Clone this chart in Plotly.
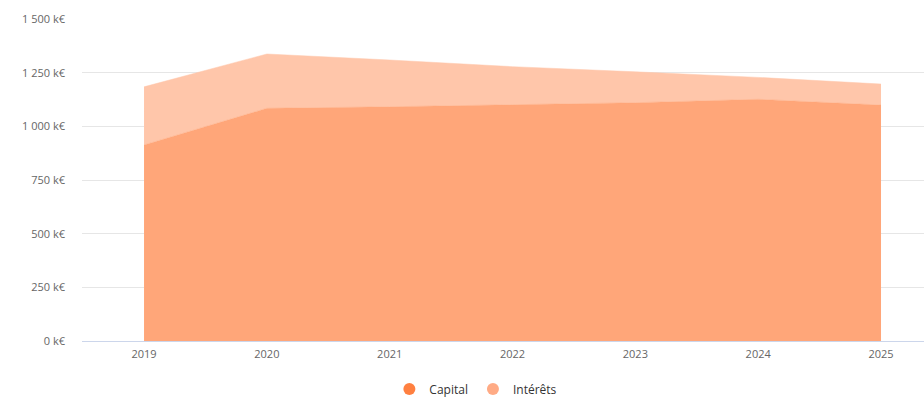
import plotly.graph_objects as go

years = [2019, 2020, 2021, 2022, 2023, 2024, 2025]
capital = [913, 1084, 1091, 1102, 1110, 1126, 1099]
interets = [271, 253, 218, 176, 144, 102, 98]

y_ticks = [0, 250, 500, 750, 1000, 1250, 1500]
y_labels = ["0 k€", "250 k€", "500 k€", "750 k€", "1 000 k€", "1 250 k€", "1 500 k€"]

series_names = ["Capital", "Intérêts"]
fill_colors = ["rgb(255,166,121)", "rgb(255,198,170)"]
legend_colors = ["rgb(255,128,64)", "rgb(255,171,133)"]

fig = go.Figure()
for name, vals, col in zip(series_names, [capital, interets], fill_colors):
    fig.add_trace(go.Scatter(
        x=years, y=vals, name=name, mode="lines",
        stackgroup="one", line=dict(width=0.5, color=col),
        fillcolor=col, showlegend=False,
    ))

# round legend symbols
for name, col in zip(series_names, legend_colors):
    fig.add_trace(go.Scatter(
        x=[None], y=[None], name=name, mode="markers",
        marker=dict(symbol="circle", size=12, color=col),
    ))

fig.update_layout(
    width=924, height=397,
    margin=dict(l=82, r=0, t=19, b=56, autoexpand=False),
    paper_bgcolor="white", plot_bgcolor="white",
    font=dict(family="Open Sans, sans-serif", size=11, color="#666666"),
    showlegend=True,
    legend=dict(
        orientation="h", xref="container", yref="container",
        x=0.515, xanchor="center", y=0.02, yanchor="middle",
        font=dict(size=12, color="#333333"),
        traceorder="normal", itemwidth=30,
    ),
    xaxis=dict(
        range=[2018.495, 2025.35], tickvals=years,
        ticktext=[str(y) for y in years],
        showgrid=False, zeroline=False,
        showline=True, linecolor="#ccd6eb", linewidth=1,
        ticks="", ticklabelstandoff=3, automargin=False,
    ),
    yaxis=dict(
        range=[0, 1500], tickvals=y_ticks, ticktext=y_labels,
        showgrid=True, gridcolor="#e6e6e6", gridwidth=1,
        zeroline=False, showline=False, ticks="",
        ticklabelstandoff=16, automargin=False,
    ),
    hovermode=False,
)

fig.write_html("out.html")
